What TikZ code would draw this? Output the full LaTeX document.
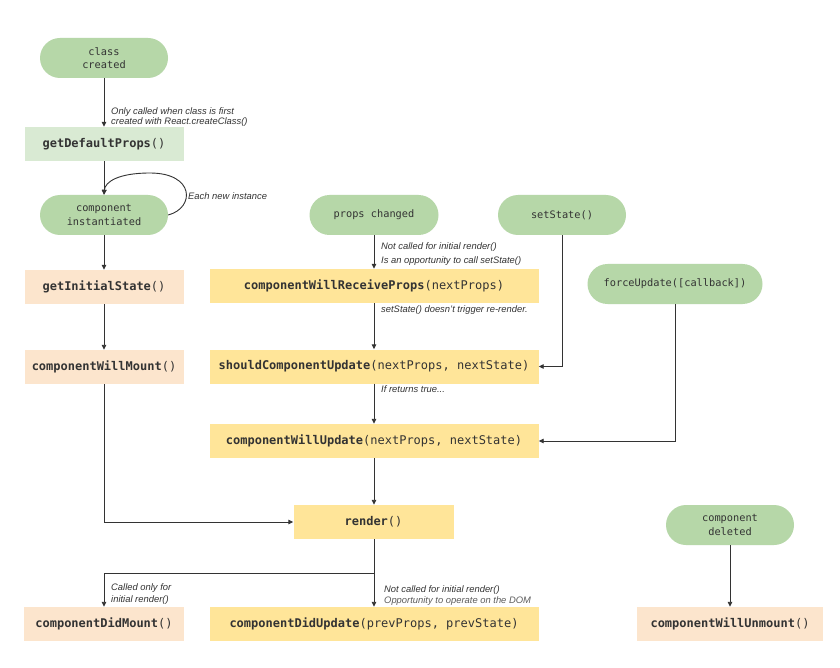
\documentclass[tikz,border=0pt]{standalone}
\usepackage{fontspec}
\setmainfont{Liberation Sans}
\setmonofont{DejaVu Sans Mono}
\usetikzlibrary{arrows.meta}
\definecolor{pillg}{HTML}{B6D7A8}
\definecolor{lgreen}{HTML}{D9EAD3}
\definecolor{peach}{HTML}{FCE5CD}
\definecolor{yel}{HTML}{FFE599}
\definecolor{txt}{HTML}{333333}
\definecolor{linec}{HTML}{333333}
\begin{document}
\begin{tikzpicture}[x=1pt,y=-1pt,
  fn/.style={rectangle, inner sep=0pt, minimum height=34pt, font=\fontsize{12}{14}\selectfont\ttfamily, text=txt},
  pill/.style={rectangle, rounded corners=20pt, inner sep=0pt, minimum height=40pt, minimum width=128pt, fill=pillg, font=\fontsize{10.3}{13.5}\selectfont\ttfamily, align=center, text=txt},
  arr/.style={draw=linec, line width=0.9pt, -{Triangle[length=5pt,width=4.5pt]}},
  note/.style={font=\fontsize{9.4}{11}\selectfont\itshape, text=txt, anchor=base west, inner sep=0pt}
]
\fill[white] (0,0) rectangle (840,668);
\useasboundingbox (0,0) rectangle (840,668);

% nodes
\node[pill] (cc) at (104,58) {class\\created};
\node[fn, fill=lgreen, minimum width=159pt] (gdp) at (104,144) {\textbf{getDefaultProps}()};
\node[pill] (ci) at (104,215) {component\\instantiated};
\node[fn, fill=peach, minimum width=159pt] (gis) at (104,287) {\textbf{getInitialState}()};
\node[fn, fill=peach, minimum width=159pt] (cwm) at (104,367) {\textbf{componentWillMount}()};
\node[pill, minimum width=129pt] (pc) at (374,215) {props changed};
\node[pill] (ss) at (562,215) {setState()};
\node[pill, minimum width=175pt] (fu) at (675,284) {forceUpdate([callback])};
\node[fn, fill=yel, minimum width=329pt] (cwrp) at (374,286) {\textbf{componentWillReceiveProps}(nextProps)};
\node[fn, fill=yel, minimum width=329pt] (scu) at (374,366.5) {\textbf{shouldComponentUpdate}(nextProps, nextState)};
\node[fn, fill=yel, minimum width=329pt] (cwu) at (374,441) {\textbf{componentWillUpdate}(nextProps, nextState)};
\node[fn, fill=yel, minimum width=160pt] (rnd) at (373.5,522) {\textbf{render}()};
\node[fn, fill=peach, minimum width=160pt] (cdm) at (104,624) {\textbf{componentDidMount}()};
\node[fn, fill=yel, minimum width=329pt] (cdu) at (374,624) {\textbf{componentDidUpdate}(prevProps, prevState)};
\node[pill] (cd) at (730,525) {component\\deleted};
\node[fn, fill=peach, minimum width=186pt] (cwun) at (730,624) {\textbf{componentWillUnmount}()};

% connectors
\draw[arr] (cc) -- (gdp);
\draw[arr] (gdp) -- (ci);
\draw[arr] (ci.east) .. controls (195,208) and (195,173) .. (150,173) .. controls (118,173) and (105,182) .. (ci.north);
\draw[arr] (ci) -- (gis);
\draw[arr] (gis) -- (cwm);
\draw[arr] (cwm.south) |- (rnd.west);
\draw[arr] (pc) -- (cwrp);
\draw[arr] (cwrp) -- (scu);
\draw[arr] (ss.south) |- (scu.east);
\draw[arr] (scu) -- (cwu);
\draw[arr] (fu.south) |- (cwu.east);
\draw[arr] (cwu.south) -- (rnd.north -| cwu.south);
\draw[arr] (rnd.south -| cdu.north) -- (cdu.north);
\coordinate (br) at (374,573);
\draw[arr] (rnd.south -| br) -- (br) -| (cdm.north);
\draw[arr] (cd) -- (cwun);

% notes
\node[note] (n1a) at (111,114.5) {Only called when class is first};
\node[note] (n1b) at (111,125) {created with React.createClass()};
\node[note] (n2) at (188,200) {Each new instance};
\node[note] (n3a) at (381,250) {Not called for initial render()};
\node[note] (n3b) at (381,263.5) {Is an opportunity to call setState()};
\node[note] (n4) at (381,312.5) {setState() doesn't trigger re-render.};
\node[note] (n5) at (381,392.5) {If returns true...};
\node[note] (n6a) at (111,590) {Called only for};
\node[note] (n6b) at (111,602) {initial render()};
\node[note] (n7a) at (384,592.5) {Not called for initial render()};
\node[note, text=txt!80] (n7b) at (384,603.5) {Opportunity to operate on the DOM};
\end{tikzpicture}
\end{document}
